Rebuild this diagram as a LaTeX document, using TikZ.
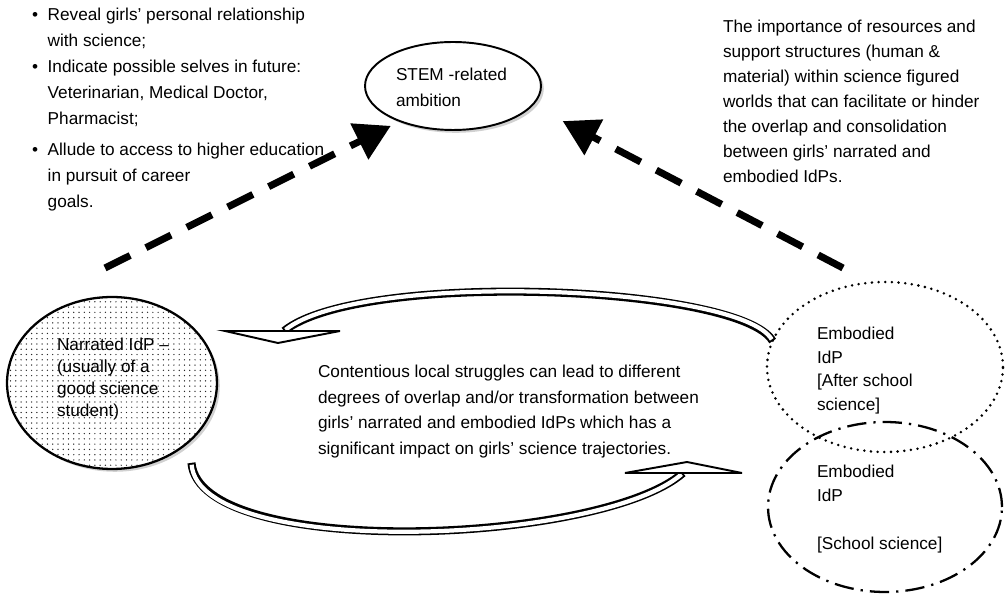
\documentclass[tikz,border=0pt]{standalone}
\usepackage{fontspec}
\setmainfont{Liberation Sans}
\usetikzlibrary{shapes.geometric, arrows.meta, patterns.meta, shadows, calc}

\begin{document}
\begin{tikzpicture}[x=0.02cm, y=-0.02cm, inner sep=0, outer sep=0,
  txt/.style={font=\fontsize{9.8}{14.6}\selectfont, align=left, anchor=north west},
  oval/.style={ellipse, draw=black},
  soft/.style={drop shadow={shadow xshift=1.6pt, shadow yshift=-1.6pt, fill=black, opacity=.18}},
  dasharrow/.style={line width=4pt, dash pattern=on 16pt off 10pt, -{Triangle[width=22pt, length=20pt]}},
  band/.style={line width=4.6pt, postaction={draw=white, line width=2.4pt, shorten <=1.1pt, shorten >=1.1pt}},
  tiphead/.style={draw=black, fill=white, line width=1.1pt, line join=miter}]
  \useasboundingbox (0,0) rectangle (1008,597);

  \node[oval, soft, line width=1.1pt, fill=white,
    minimum width=3.52cm,
    minimum height=1.76cm] (stem) at (453,86) {};
  \node[txt] (stemtxt) at (396,68) {STEM -related\\ambition};

  \node[oval, soft, preaction={fill=white}, line width=1.3pt,
    pattern={Dots[distance=3pt, radius=0.4pt]}, pattern color=black!85,
    minimum width=4.2cm,
    minimum height=3.44cm] (narr) at (112,383) {};
  \node[txt, font=\fontsize{9.8}{12.5}\selectfont] (narrtxt) at (57,338) {Narrated IdP --\\(usually of a\\good science\\student)};

  \node[oval, line width=1.6pt, line cap=round, dash pattern=on 0pt off 3.8pt,
    minimum width=4.72cm,
    minimum height=3.4cm] (after) at (885,367) {};
  \node[oval, line width=1.3pt, dash pattern=on 11pt off 4pt on 1.3pt off 4pt,
    minimum width=4.68cm,
    minimum height=3.4cm] (school) at (885,507) {};
  \node[txt, font=\fontsize{9.8}{13.4}\selectfont] (aftertxt) at (817,327) {Embodied\\IdP\\{[}After school\\science{]}};
  \node[txt, font=\fontsize{9.8}{13.6}\selectfont] (schooltxt) at (817,465) {Embodied\\IdP\\[13.6pt]{[}School science{]}};

  \node[txt] (struggle) at (318,365) {Contentious local struggles can lead to different\\degrees of overlap and/or transformation between\\girls’ narrated and embodied IdPs which has a\\significant impact on girls’ science trajectories.};

  \node[txt, font=\fontsize{9.8}{14.2}\selectfont] (support) at (723,20) {The importance of resources and\\support structures (human \&\\material) within science figured\\worlds that can facilitate or hinder\\the overlap and consolidation\\between girls’ narrated and\\embodied IdPs.};

  \node[txt, font=\fontsize{9.8}{14.8}\selectfont] (goals) at (32,2) {%
    \begin{tabular}{@{}l@{\hspace{5.5pt}}l@{}}
      \textbullet & Reveal girls’ personal relationship\\
                  & with science;\\
      \textbullet & Indicate possible selves in future:\\
                  & Veterinarian, Medical Doctor,\\
                  & Pharmacist;\\[3pt]
      \textbullet & Allude to access to higher education\\
                  & in pursuit of career\\
                  & goals.
    \end{tabular}};

  % dashed links up to the ambition
  \coordinate (lfoot) at (105,268);
  \coordinate (rfoot) at (843,268);
  \draw[dasharrow] (lfoot) -- ([yshift=-5pt]stem.south west);
  \draw[dasharrow] (rfoot) -- ([shift={(0.95cm,-0.08cm)}]stem.south east);

  % curved hollow arrows
  \coordinate (toptip) at (284,331);
  \coordinate (bottip) at (683,473);
  \draw[band] (after.167) .. controls (740,285) and (360,270) .. (toptip);
  \draw[tiphead] ($(toptip)+(-59,0)$) -- ($(toptip)+(56,0)$) -- ($(toptip)+(-6,12)$) -- cycle;
  \draw[band] ([shift={(0.4cm,-0.18cm)}]narr.-50) .. controls (200,560) and (600,545) .. (bottip);
  \draw[tiphead] ($(bottip)+(-58,0)$) -- ($(bottip)+(59,0)$) -- ($(bottip)+(4,-11)$) -- cycle;
\end{tikzpicture}
\end{document}
